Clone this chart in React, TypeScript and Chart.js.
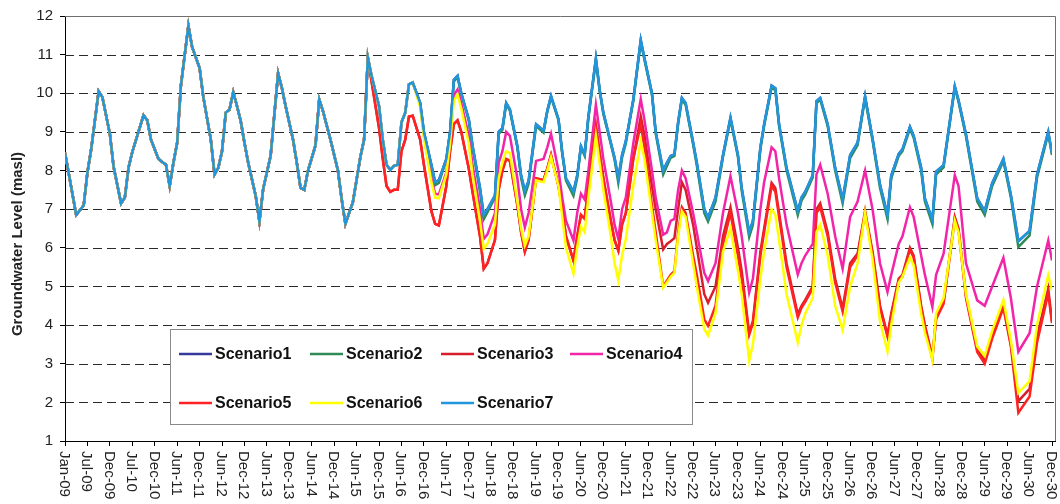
import React, { useEffect, useRef } from 'react';
import { Chart, registerables } from 'chart.js';

Chart.register(...registerables);

const FONT = '"Liberation Sans", Arial, Helvetica, sans-serif';

// Tick labels placed every 6 months (month index 0, 6, 12, ...)
const tickLabels = [
  'Jan-09', 'Jul-09', 'Dec-09', 'Jul-10', 'Dec-10', 'Jun-11', 'Dec-11', 'Jun-12', 'Dec-12',
  'Jun-13', 'Dec-13', 'Jun-14', 'Dec-14', 'Jun-15', 'Dec-15', 'Jun-16', 'Dec-16', 'Jun-17',
  'Dec-17', 'Jun-18', 'Dec-18', 'Jun-19', 'Dec-19', 'Jun-20', 'Dec-20', 'Jun-21', 'Dec-21',
  'Jun-22', 'Dec-22', 'Jun-23', 'Dec-23', 'Jun-24', 'Dec-24', 'Jun-25', 'Dec-25', 'Jun-26',
  'Dec-26', 'Jun-27', 'Dec-27', 'Jun-28', 'Dec-28', 'Jun-29', 'Dec-29', 'Jun-30', 'Dec-30',
];

const scenarioNames = ['Scenario1', 'Scenario2', 'Scenario3', 'Scenario4', 'Scenario5', 'Scenario6', 'Scenario7'];

// Shared observed history (month index from Jan-09), identical for all scenarios
const historyMonths = [
  0, 3, 5, 6, 7, 9, 10, 12, 13, 15, 16, 17, 18, 21, 22, 23, 25, 26, 27, 28,
  29, 30, 31, 33, 34, 36, 37, 39, 40, 41, 42, 43, 44, 45, 46, 47, 48, 49, 51, 52,
  53, 55, 57, 58, 59, 61, 62, 63, 64, 65, 67, 68, 69, 71, 73, 74, 75, 77, 79, 80, 81,
];
const historyLevel = [
  8.46, 6.85, 7.1, 7.95, 8.55, 10.05, 9.9, 8.95, 8.1, 7.15, 7.3, 8.08, 8.48, 9.43, 9.3, 8.8, 8.3, 8.22, 8.15, 7.6,
  8.2, 8.72, 10.2, 11.75, 11.2, 10.65, 9.9, 8.8, 7.9, 8.07, 8.5, 9.5, 9.58, 10.03, 9.67, 9.28, 8.72, 8.2, 7.35, 6.68,
  7.52, 8.38, 10.52, 10.14, 9.67, 8.8, 8.2, 7.55, 7.5, 8.0, 8.65, 9.84, 9.54, 8.8, 8.0, 7.26, 6.62, 7.18, 8.35, 8.8, 10.93,
];

// Scenario period
const futureMonths = [
  82, 84, 85, 86, 87, 88, 89, 90, 91, 92,
  93, 95, 96, 98, 99, 100, 102, 103, 104, 105,
  106, 108, 109, 111, 112, 113, 115, 116, 117, 118,
  119, 121, 122, 123, 124, 126, 128, 129, 130, 132,
  133, 134, 136, 137, 138, 139, 140, 142, 143, 144,
  146, 147, 148, 149, 150, 152, 154, 155, 157, 158,
  160, 161, 162, 163, 164, 165, 166, 168, 169, 171,
  172, 174, 176, 178, 180, 181, 183, 184, 186, 187,
  189, 190, 191, 193, 196, 197, 198, 200, 201, 202,
  204, 206, 208, 210, 212, 214, 216, 218, 220, 221,
  223, 224, 226, 227, 229, 230, 232, 233, 235, 238,
  239, 241, 244, 246, 248, 251, 253, 255, 258, 260,
  263, 264,
];

const scenario1Future = [
  10.45, 9.67, 8.8, 8.15, 8.02, 8.12, 8.15, 9.25, 9.5, 10.23,
  10.28, 9.75, 9.0, 8.15, 7.7, 7.75, 8.3, 9.0, 10.35, 10.45,
  10.0, 9.33, 8.65, 7.55, 6.85, 7.0, 7.35, 9.0, 9.1, 9.75,
  9.58, 8.63, 7.87, 7.48, 7.73, 9.2, 9.03, 9.55, 9.93, 9.33,
  8.47, 7.8, 7.45, 7.87, 8.63, 8.42, 9.4, 10.9, 10.1, 9.5,
  8.72, 8.33, 7.8, 8.4, 8.76, 9.83, 11.38, 10.9, 10.0, 9.0,
  8.0, 8.2, 8.38, 8.42, 9.25, 9.88, 9.75, 8.73, 8.2, 7.0,
  6.78, 7.3, 8.4, 9.37, 8.4, 7.55, 6.4, 6.7, 8.6, 9.2,
  10.2, 10.13, 9.2, 8.07, 6.95, 7.3, 7.45, 7.88, 9.8, 9.88,
  9.2, 8.07, 7.25, 8.4, 8.72, 9.92, 8.83, 7.63, 6.85, 7.87,
  8.43, 8.55, 9.13, 8.9, 8.07, 7.28, 6.72, 7.97, 8.14, 10.18,
  9.82, 8.93, 7.28, 6.95, 7.67, 8.3, 7.37, 6.17, 6.44, 7.9,
  9.0, 8.45,
];

const scenario2Future = [
  10.45, 9.67, 8.8, 8.15, 8.02, 8.12, 8.15, 9.25, 9.5, 10.23,
  10.28, 9.75, 9.0, 8.12, 7.62, 7.68, 8.28, 9.0, 10.3, 10.42,
  9.98, 9.3, 8.6, 7.45, 6.74, 6.92, 7.3, 8.95, 9.05, 9.72,
  9.55, 8.6, 7.8, 7.36, 7.66, 9.15, 8.98, 9.52, 9.9, 9.3,
  8.43, 7.74, 7.35, 7.8, 8.6, 8.38, 9.35, 10.86, 10.06, 9.46,
  8.68, 8.28, 7.68, 8.33, 8.7, 9.8, 11.33, 10.86, 9.96, 8.96,
  7.9, 8.12, 8.33, 8.38, 9.2, 9.84, 9.7, 8.68, 8.12, 6.9,
  6.68, 7.2, 8.35, 9.32, 8.35, 7.48, 6.28, 6.6, 8.55, 9.15,
  10.15, 10.08, 9.15, 8.0, 6.85, 7.22, 7.38, 7.82, 9.74, 9.84,
  9.15, 8.0, 7.15, 8.32, 8.66, 9.88, 8.78, 7.55, 6.75, 7.8,
  8.38, 8.5, 9.08, 8.85, 8.0, 7.2, 6.62, 7.9, 8.08, 10.14,
  9.78, 8.88, 7.2, 6.85, 7.6, 8.25, 7.3, 6.02, 6.32, 7.82,
  8.95, 8.4,
];

const scenario3Future = [
  10.3, 9.1, 8.3, 7.6, 7.45, 7.5, 7.5, 8.5, 8.8, 9.4,
  9.42, 8.8, 8.15, 6.95, 6.62, 6.58, 7.6, 8.5, 9.2, 9.3,
  9.0, 8.05, 7.45, 6.3, 5.46, 5.6, 6.2, 7.5, 8.0, 8.3,
  8.25, 7.1, 6.4, 5.9, 6.2, 7.8, 7.75, 8.05, 8.4, 7.6,
  7.0, 6.3, 5.67, 6.3, 6.85, 6.75, 7.6, 9.15, 8.45, 7.8,
  6.7, 6.2, 5.93, 6.6, 6.9, 8.3, 9.4, 8.9, 7.6, 7.0,
  5.96, 6.1, 6.17, 6.25, 7.0, 7.7, 7.5, 6.6, 6.0, 4.8,
  4.58, 5.0, 6.3, 7.05, 6.0, 5.4, 3.8, 4.1, 5.9, 6.5,
  7.68, 7.55, 6.9, 5.6, 4.28, 4.5, 4.65, 5.0, 7.0, 7.15,
  6.4, 5.2, 4.43, 5.6, 5.85, 6.95, 5.9, 4.5, 3.74, 4.3,
  5.2, 5.3, 6.0, 5.8, 4.5, 4.0, 3.18, 4.2, 4.6, 6.8,
  6.5, 4.75, 3.36, 3.1, 3.7, 4.5, 3.5, 2.03, 2.35, 3.7,
  4.94, 4.09,
];

const scenario4Future = [
  10.45, 9.67, 8.8, 8.15, 8.02, 8.12, 8.15, 9.25, 9.5, 10.23,
  10.28, 9.7, 8.9, 7.8, 7.4, 7.38, 7.95, 8.8, 9.95, 10.1,
  9.75, 8.9, 8.15, 7.0, 6.23, 6.35, 6.9, 8.2, 8.5, 9.0,
  8.9, 7.8, 7.0, 6.53, 6.9, 8.25, 8.3, 8.6, 8.95, 8.0,
  7.3, 6.7, 6.19, 6.9, 7.4, 7.25, 8.0, 9.7, 9.0, 8.3,
  7.2, 6.6, 6.23, 7.0, 7.3, 8.7, 9.85, 9.3, 8.0, 7.3,
  6.34, 6.4, 6.7, 6.75, 7.5, 8.0, 7.8, 6.9, 6.4, 5.35,
  5.14, 5.6, 6.9, 7.85, 6.9, 6.3, 4.84, 5.2, 7.0, 7.7,
  8.6, 8.5, 7.8, 6.6, 5.31, 5.6, 5.8, 6.1, 7.9, 8.15,
  7.4, 6.3, 5.46, 6.8, 7.2, 8.0, 7.0, 5.6, 4.86, 5.3,
  6.1, 6.3, 7.05, 6.8, 5.8, 5.3, 4.47, 5.3, 5.85, 7.88,
  7.6, 5.6, 4.64, 4.5, 5.0, 5.74, 4.7, 3.31, 3.79, 5.0,
  6.19, 5.67,
];

const scenario5Future = [
  10.3, 9.1, 8.3, 7.6, 7.45, 7.5, 7.5, 8.5, 8.8, 9.4,
  9.42, 8.8, 8.15, 6.95, 6.62, 6.58, 7.6, 8.5, 9.2, 9.3,
  9.0, 8.05, 7.45, 6.3, 5.46, 5.6, 6.2, 7.5, 8.0, 8.3,
  8.25, 7.1, 6.4, 5.9, 6.2, 7.8, 7.75, 8.05, 8.4, 7.6,
  7.0, 6.3, 5.67, 6.3, 6.85, 6.75, 7.6, 9.15, 8.45, 7.8,
  6.7, 6.2, 5.93, 6.6, 6.9, 8.3, 9.2, 8.6, 7.1, 6.4,
  5.0, 5.15, 5.3, 5.4, 6.4, 7.05, 6.9, 5.8, 5.3, 4.15,
  3.98, 4.5, 6.1, 6.9, 5.8, 5.2, 3.75, 4.05, 5.8, 6.4,
  7.6, 7.45, 6.8, 5.5, 4.2, 4.45, 4.6, 4.95, 6.9, 7.05,
  6.3, 5.1, 4.35, 5.5, 5.8, 6.9, 5.85, 4.45, 3.7, 4.25,
  5.15, 5.25, 5.95, 5.75, 4.45, 3.95, 3.12, 4.15, 4.55, 6.75,
  6.45, 4.7, 3.3, 3.0, 3.65, 4.45, 3.45, 1.73, 2.15, 3.55,
  4.82, 4.05,
];

const scenario6Future = [
  10.45, 9.67, 8.8, 8.15, 8.02, 8.12, 8.15, 9.25, 9.5, 10.23,
  10.28, 9.65, 8.85, 7.7, 7.3, 7.28, 7.9, 8.7, 9.8, 9.97,
  9.6, 8.7, 7.9, 6.7, 5.97, 6.1, 6.6, 7.8, 8.2, 8.5,
  8.45, 7.2, 6.5, 6.06, 6.3, 7.75, 7.7, 8.0, 8.35, 7.6,
  6.8, 6.0, 5.33, 6.0, 6.55, 6.4, 7.3, 8.9, 8.2, 7.5,
  6.3, 5.6, 5.16, 5.8, 6.23, 7.6, 8.75, 8.3, 6.9, 6.2,
  4.97, 5.1, 5.25, 5.35, 6.3, 6.95, 6.8, 5.6, 5.0, 3.9,
  3.73, 4.3, 5.9, 6.5, 5.4, 4.8, 3.08, 3.5, 5.2, 5.9,
  7.0, 6.85, 6.2, 4.8, 3.55, 4.0, 4.3, 4.7, 6.4, 6.6,
  5.8, 4.5, 3.87, 5.0, 5.6, 6.9, 5.7, 4.1, 3.31, 4.0,
  5.1, 5.25, 5.75, 5.55, 4.3, 3.8, 3.1, 4.3, 4.7, 6.7,
  6.4, 4.8, 3.45, 3.2, 3.85, 4.65, 3.6, 2.24, 2.55, 4.0,
  5.29, 4.9,
];

const scenario7Future = scenario1Future;

const scenarioFutures = [
  scenario1Future, scenario2Future, scenario3Future, scenario4Future,
  scenario5Future, scenario6Future, scenario7Future,
];

const scenarioColors = ['#363a9a', '#2f8a55', '#d81e2a', '#f224a8', '#ff2222', '#ffff00', '#2196dc'];

const legendCols = [179, 310, 441, 570];
const legendRows = [354, 403];

const gridPlugin = {
  id: 'dashedGrid',
  beforeDatasetsDraw(chart: any) {
    const { ctx, chartArea: a, scales } = chart;
    const ys = scales.y;
    ctx.save();
    ctx.strokeStyle = '#2a2a2a';
    ctx.lineWidth = 1;
    ctx.setLineDash([9, 5]);
    ys.ticks.forEach((t: any) => {
      if (t.value <= ys.min || t.value >= ys.max) return;
      const py = Math.round(ys.getPixelForValue(t.value)) + 0.5;
      ctx.beginPath();
      ctx.moveTo(a.left, py);
      ctx.lineTo(1055, py);
      ctx.stroke();
    });
    ctx.restore();
  },
};

const decorPlugin = {
  id: 'decor',
  afterDraw(chart: any) {
    const { ctx, chartArea: a, scales } = chart;
    const xs = scales.x;
    ctx.save();

    // top + right frame, axis extension
    ctx.setLineDash([]);
    ctx.strokeStyle = '#6e6e6e';
    ctx.lineWidth = 1;
    ctx.beginPath();
    ctx.moveTo(a.left, Math.round(a.top) + 0.5);
    ctx.lineTo(1055.5, Math.round(a.top) + 0.5);
    ctx.lineTo(1055.5, Math.round(a.bottom));
    ctx.stroke();
    ctx.strokeStyle = '#000';
    ctx.beginPath();
    ctx.moveTo(a.left, Math.round(a.bottom) + 0.5);
    ctx.lineTo(1056, Math.round(a.bottom) + 0.5);
    ctx.stroke();

    // x tick labels, rotated clockwise (read top to bottom)
    ctx.fillStyle = '#222';
    ctx.font = `15px ${FONT}`;
    ctx.textAlign = 'left';
    ctx.textBaseline = 'middle';
    tickLabels.forEach((lab, k) => {
      const px = xs.getPixelForValue(k * 6);
      ctx.save();
      ctx.translate(px - 1, a.bottom + 10);
      ctx.rotate(Math.PI / 2);
      ctx.fillText(lab, 0, 0);
      ctx.restore();
    });

    // y axis title
    ctx.save();
    ctx.font = `bold 15px ${FONT}`;
    ctx.textAlign = 'center';
    ctx.textBaseline = 'middle';
    ctx.translate(18, 244);
    ctx.rotate(-Math.PI / 2);
    ctx.fillText('Groundwater Level (masl)', 0, 0);
    ctx.restore();

    // legend box
    ctx.fillStyle = '#fff';
    ctx.fillRect(170.5, 329.5, 522, 95);
    ctx.strokeStyle = '#8a8a8a';
    ctx.lineWidth = 1;
    ctx.strokeRect(170.5, 329.5, 522, 95);
    ctx.font = `bold 16px ${FONT}`;
    ctx.textAlign = 'left';
    ctx.textBaseline = 'middle';
    chart.data.datasets.forEach((ds: any, i: number) => {
      const col = i < 4 ? i : i - 4;
      const row = i < 4 ? 0 : 1;
      const sx = legendCols[col];
      const sy = legendRows[row];
      ctx.strokeStyle = ds.borderColor;
      ctx.lineWidth = 2.5;
      ctx.beginPath();
      ctx.moveTo(sx, sy);
      ctx.lineTo(sx + 33, sy);
      ctx.stroke();
      ctx.fillStyle = '#111';
      ctx.fillText(ds.label, sx + 36, sy + 1);
    });

    ctx.restore();
  },
};

export default function App() {
  const ref = useRef<HTMLCanvasElement>(null);

  useEffect(() => {
    if (!ref.current) return;
    Chart.defaults.font.family = FONT;
    const allMonths = [...historyMonths, ...futureMonths];
    const datasets = scenarioNames.map((name, i) => {
      const levels = [...historyLevel, ...scenarioFutures[i]];
      return {
        label: name,
        data: allMonths.map((m, k) => ({ x: m, y: levels[k] })),
        borderColor: scenarioColors[i],
        backgroundColor: scenarioColors[i],
        borderWidth: 2.5,
        pointRadius: 0,
        tension: 0,
        fill: false,
        order: scenarioNames.length - 1 - i,
      };
    });

    const chart = new Chart(ref.current, {
      type: 'line',
      data: { datasets },
      options: {
        animation: false,
        responsive: false,
        devicePixelRatio: 1,
        layout: { padding: { top: 16, right: 8, left: 0, bottom: 0 } },
        plugins: { legend: { display: false }, tooltip: { enabled: false } },
        scales: {
          x: {
            type: 'linear',
            min: 0,
            max: 264,
            ticks: { stepSize: 6, display: false, includeBounds: false },
            grid: { drawOnChartArea: false, drawTicks: true, tickLength: 5, color: '#000', tickColor: '#000' },
            border: { display: true, color: '#000', width: 1 },
            afterFit: (s: any) => { s.height = 63; },
          },
          y: {
            type: 'linear',
            min: 1,
            max: 12,
            ticks: { stepSize: 1, padding: 7, color: '#222', font: { size: 15, family: FONT } },
            grid: {
              drawOnChartArea: false,
              drawTicks: true,
              tickLength: 5,
              tickColor: '#000',
              color: '#000',
              lineWidth: 1,
            },
            border: { display: true, color: '#000', width: 1 },
            afterFit: (s: any) => { s.width = 65; },
          },
        },
      },
      plugins: [gridPlugin, decorPlugin],
    });
    return () => chart.destroy();
  }, []);

  return (
    <div style={{ position: 'fixed', left: 0, top: 0, width: 1060, height: 504, background: '#fff' }}>
      <canvas ref={ref} width={1060} height={504} style={{ width: 1060, height: 504, display: 'block' }} />
    </div>
  );
}
